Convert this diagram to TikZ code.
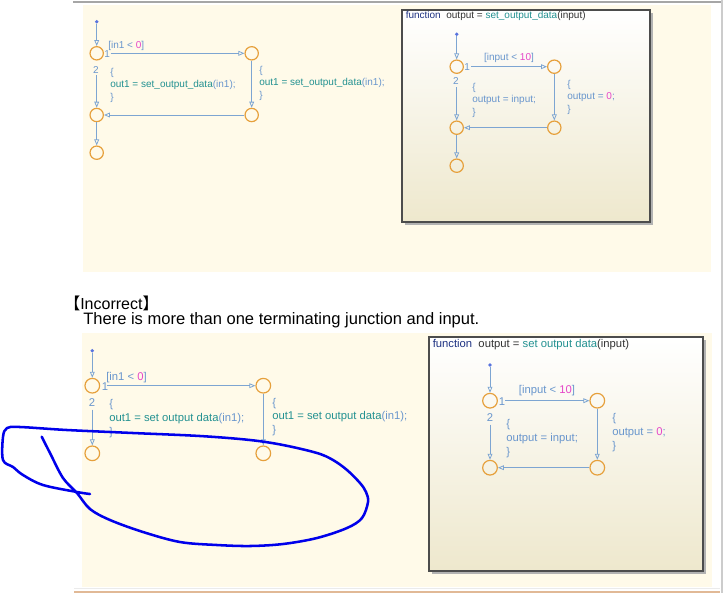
\documentclass[tikz,border=0pt]{standalone}
\usepackage{fontspec}
\setmainfont{Liberation Sans}
\newfontfamily\cjk{Noto Sans CJK JP}
\usetikzlibrary{arrows.meta,positioning}

\definecolor{paper}{RGB}{255,250,233}
\definecolor{juncol}{RGB}{230,160,60}
\definecolor{trcol}{RGB}{125,165,210}
\definecolor{lblcol}{RGB}{105,150,205}
\definecolor{numcol}{RGB}{230,70,200}
\definecolor{fcncol}{RGB}{35,145,145}
\definecolor{navy}{RGB}{30,50,130}
\definecolor{boxbot}{RGB}{238,232,205}
\definecolor{inkblue}{RGB}{0,0,235}
\definecolor{peach}{RGB}{225,185,150}

\begin{document}
\begin{tikzpicture}[x=0.75pt, y=-0.75pt,
    junc/.style={circle, draw=juncol, line width=0.9pt, minimum size=10pt, inner sep=0pt},
    juncb/.style={junc, minimum size=11pt},
    dotn/.style={circle, fill=trcol!70!blue, inner sep=0pt, minimum size=2.8pt},
    trans/.style={draw=trcol, line width=0.6pt, -{Triangle[open, length=4.5pt, width=3.6pt]}},
    lbl/.style={text=lblcol, inner sep=0pt, font=\fontsize{7.5}{9.4}\selectfont},
    lblb/.style={lbl, font=\fontsize{8.45}{10.3}\selectfont},
    act/.style={lbl, align=left},
    actb/.style={lblb, align=left},
    fbox/.style={draw=black!70, line width=0.9pt, top color=white, bottom color=boxbot},
  ]

  \useasboundingbox (0,0) rectangle (723,593);
  \fill[white] (0,0) rectangle (723,593);

  % page frame
  \fill[paper] (83,5) rectangle (711,272);
  \fill[paper] (82,333) rectangle (712,587);
  \draw[black!35, line width=0.8pt] (73,2) -- (723,2);
  \draw[black!20, line width=0.8pt] (722,0) -- (722,593);
  \draw[black!8, line width=1pt] (74,588.5) -- (720,588.5);
  \draw[peach, line width=1.2pt] (74,592) -- (720,592);

  % top left chart
  \node[dotn] (a0) at (96.7,21.7) {};
  \node[junc] (a1) at (96.7,53.3) {};
  \node[junc] (a2) at (251.7,53.3) {};
  \node[junc] (a3) at (96.7,115) {};
  \node[junc] (a4) at (251.7,115) {};
  \node[junc] (a5) at (96.7,152.7) {};

  \draw[trans] (a0) -- (a1);
  \draw[trans, shorten <=5pt] (a1) -- (a2);
  \draw[trans] (a2) -- (a4);
  \draw[trans] (a4) -- (a3);
  \draw[trans, shorten <=11pt] (a1) -- (a3);
  \draw[trans] (a3) -- (a5);

  \node[lbl, anchor=west] (ag) at (108,46) {[in1 < \textcolor{numcol}{0}]};
  \node[lbl, anchor=west] (an1) at (104,54.5) {1};
  \node[lbl] (an2) at (96,70) {2};
  \node[act, anchor=west] (aa1) at (110,85) {\{\\ \textcolor{fcncol}{out1 = set\_output\_data}(in1);\\ \}};
  \node[act, anchor=west] (aa2) at (259,83) {\{\\ \textcolor{fcncol}{out1 = set\_output\_data}(in1);\\ \}};

  % top right function box
  \fill[black!30] (404.5,12.5) rectangle (652.5,224.5);
  \path[fbox] (402,10) rectangle (650,222);
  \node[lbl, anchor=west, text=black!80] (bt) at (405.5,15.5)
    {\textcolor{navy}{function}\ \ output = \textcolor{fcncol}{set\_output\_data}(input)};

  \node[dotn] (b0) at (456.7,34.3) {};
  \node[junc] (b1) at (456.7,66.7) {};
  \node[junc] (b2) at (554.3,66.7) {};
  \node[junc] (b3) at (456.7,127.7) {};
  \node[junc] (b4) at (554.3,127.7) {};
  \node[junc] (b5) at (456.7,165.7) {};

  \draw[trans] (b0) -- (b1);
  \draw[trans, shorten <=5.5pt] (b1) -- (b2);
  \draw[trans] (b2) -- (b4);
  \draw[trans] (b4) -- (b3);
  \draw[trans, shorten <=10pt] (b1) -- (b3);
  \draw[trans] (b3) -- (b5);

  \node[lbl] (bg) at (509,58) {[input < \textcolor{numcol}{10}]};
  \node[lbl, anchor=west] (bn1) at (464,67.5) {1};
  \node[lbl] (bn2) at (456,81) {2};
  \node[act, anchor=west] (ba1) at (472,100) {\{\\ output = input;\\ \}};
  \node[act, anchor=west] (ba2) at (567,97) {\{\\ output = \textcolor{numcol}{0};\\ \}};

  % heading
  \node[anchor=west, inner sep=0pt, font=\fontsize{12}{14}\selectfont] (hd) at (64,303)
    {{\cjk 【}Incorrect{\cjk 】}};
  \node[anchor=west, inner sep=0pt, font=\fontsize{12.4}{15}\selectfont] (sub) at (83,320)
    {There is more than one terminating junction and input.};

  % bottom left chart
  \node[dotn] (c0) at (92.3,350.7) {};
  \node[juncb] (c1) at (92.3,385.7) {};
  \node[juncb] (c2) at (263.3,385.7) {};
  \node[juncb] (c3) at (92.3,453.3) {};
  \node[juncb] (c4) at (263.3,453.3) {};

  \draw[trans] (c0) -- (c1);
  \draw[trans, shorten <=5pt] (c1) -- (c2);
  \draw[trans, shorten <=12pt] (c1) -- (c3);
  \draw[trans] (c2) -- (c4);

  \node[lblb, anchor=west] (cg) at (106,377.7) {[in1 < \textcolor{numcol}{0}]};
  \node[lblb, anchor=west] (cn1) at (101.5,387) {1};
  \node[lblb] (cn2) at (92,403) {2};
  \node[actb, anchor=west] (ca1) at (109,418.5) {\{\\ \textcolor{fcncol}{out1 = set output data}(in1);\\ \}};
  \node[actb, anchor=west] (ca2) at (272,417) {\{\\ \textcolor{fcncol}{out1 = set output data}(in1);\\ \}};

  % bottom right function box
  \fill[black!30] (431.5,339.5) rectangle (705.5,573.5);
  \path[fbox] (429,337) rectangle (703,571);
  \node[lblb, anchor=west, text=black!80] (dt) at (432.5,345)
    {\textcolor{navy}{function}\ \ output = \textcolor{fcncol}{set output data}(input)};

  \node[dotn] (d0) at (490,365) {};
  \node[juncb] (d1) at (490,400.7) {};
  \node[juncb] (d2) at (597.3,400.7) {};
  \node[juncb] (d3) at (490,467.7) {};
  \node[juncb] (d4) at (597.3,467.7) {};

  \draw[trans] (d0) -- (d1);
  \draw[trans, shorten <=5.5pt] (d1) -- (d2);
  \draw[trans] (d2) -- (d4);
  \draw[trans] (d4) -- (d3);
  \draw[trans, shorten <=12pt] (d1) -- (d3);

  \node[lblb] (dg) at (547,391) {[input < \textcolor{numcol}{10}]};
  \node[lblb, anchor=west] (dn1) at (498.5,401.5) {1};
  \node[lblb] (dn2) at (490,418) {2};
  \node[actb, anchor=west] (da1) at (506,438.5) {\{\\ output = input;\\ \}};
  \node[actb, anchor=west] (da2) at (612,432.5) {\{\\ output = \textcolor{numcol}{0};\\ \}};

  % hand drawn loop
  \draw[inkblue, line width=1.9pt, line cap=round, line join=round]
    plot[smooth, tension=0.55] coordinates {
      (41.7,436.7) (50,453) (63,478) (77,493) (90,509) (110,520) (143,532)
      (180,542) (217,545) (250,546) (283,544) (317,538) (347,528) (362,518)
      (368,502) (366,492) (360,483) (347,470) (333,460) (317,453) (283,445)
      (250,440) (200,436) (133,433) (67,430) (20,427) (7,428) (3,437)
      (3,460) (13,467) (23,475) (43,485) (77,492) (90,494)};

\end{tikzpicture}
\end{document}
